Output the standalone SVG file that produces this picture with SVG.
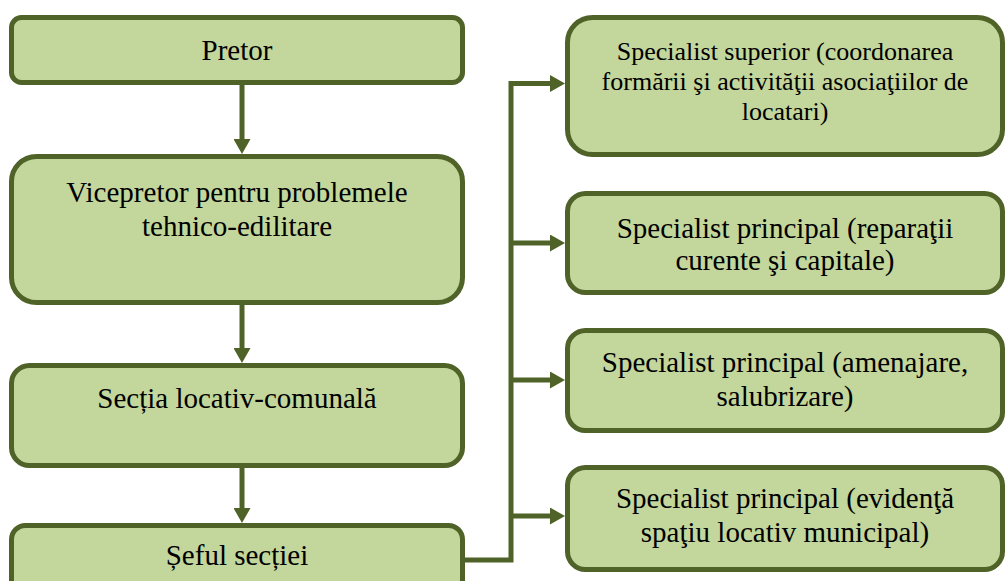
<svg xmlns="http://www.w3.org/2000/svg" width="1006" height="581" viewBox="0 0 1006 581">
<style>
.box{fill:#c3d69b;stroke:#4f6228;stroke-width:5}
.c{fill:none;stroke:#4f6228;stroke-width:5}
</style>
<defs>
<marker id="ah" markerUnits="userSpaceOnUse" markerWidth="16" markerHeight="17" refX="0" refY="8.5" orient="auto" viewBox="0 0 16 17">
<path d="M0,0 L15,8.5 L0,17 z" fill="#4f6228"/>
</marker>
</defs>
<g id="connectors">
<line class="c" x1="242" y1="85" x2="242" y2="139" marker-end="url(#ah)"/>
<line class="c" x1="242" y1="305" x2="242" y2="348" marker-end="url(#ah)"/>
<line class="c" x1="242" y1="468" x2="242" y2="508" marker-end="url(#ah)"/>
<path class="c" d="M465,560 H511 V83.5 H550" marker-end="url(#ah)"/>
<line class="c" x1="511" y1="243" x2="550" y2="243" marker-end="url(#ah)"/>
<line class="c" x1="511" y1="380" x2="550" y2="380" marker-end="url(#ah)"/>
<line class="c" x1="511" y1="516" x2="550" y2="516" marker-end="url(#ah)"/>
</g>
<g id="nodes" font-family="Liberation Serif, Times New Roman, serif" font-size="29" text-anchor="middle">
<g id="pretor">
<rect class="box" x="11.5" y="17.5" width="451" height="65" rx="10"/>
<text x="237" y="60">Pretor</text>
</g>
<g id="vicepretor">
<rect class="box" x="11.5" y="156.5" width="451" height="146" rx="25"/>
<text x="237" y="202">Vicepretor pentru problemele</text>
<text x="237" y="236">tehnico-edilitare</text>
</g>
<g id="sectia">
<rect class="box" x="11.5" y="365.5" width="451" height="100" rx="18"/>
<text x="237" y="408">Secția locativ-comunală</text>
</g>
<g id="seful">
<rect class="box" x="11.5" y="525.5" width="451" height="75" rx="14"/>
<text x="237" y="565">Șeful secției</text>
</g>
<g id="spec1" font-size="26">
<rect class="box" x="567.5" y="17.5" width="435" height="137" rx="25"/>
<text x="785" y="60">Specialist superior (coordonarea</text>
<text x="785" y="90">formării şi activităţii asociaţiilor de</text>
<text x="785" y="120">locatari)</text>
</g>
<g id="spec2">
<rect class="box" x="567.5" y="193.5" width="435" height="99" rx="18"/>
<text x="785" y="238">Specialist principal (reparaţii</text>
<text x="785" y="270">curente şi capitale)</text>
</g>
<g id="spec3">
<rect class="box" x="567.5" y="330.5" width="435" height="100" rx="18"/>
<text x="785" y="372">Specialist principal (amenajare,</text>
<text x="785" y="406">salubrizare)</text>
</g>
<g id="spec4">
<rect class="box" x="567.5" y="467.5" width="435" height="102" rx="18"/>
<text x="785" y="508">Specialist principal (evidenţă</text>
<text x="785" y="542">spaţiu locativ municipal)</text>
</g>
</g>
</svg>
